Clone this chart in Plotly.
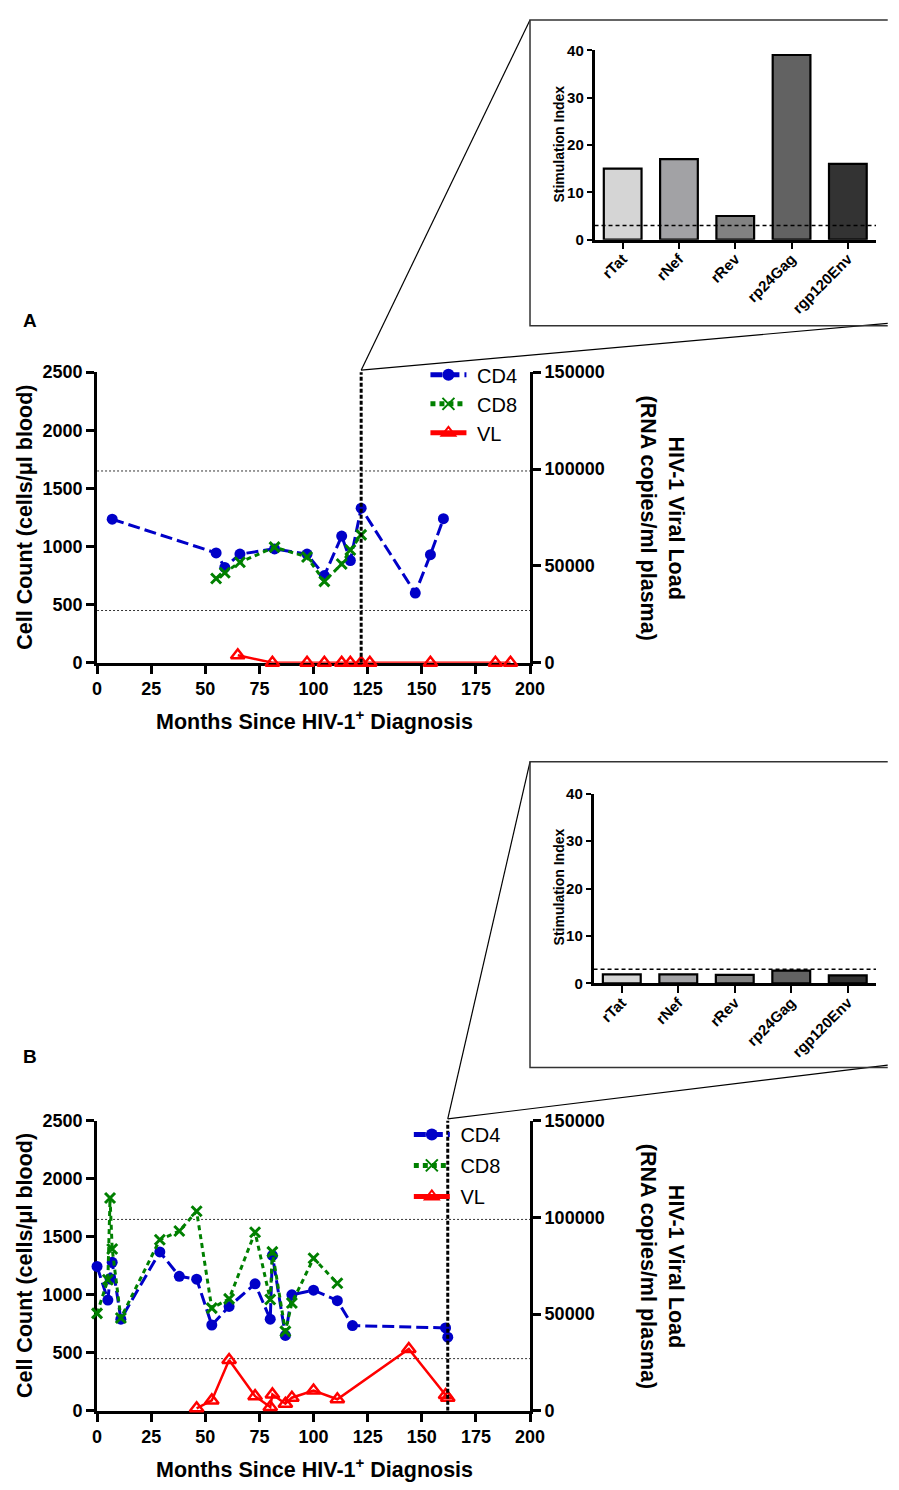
import plotly.graph_objects as go

W, H = 899, 1490          # size of the browser window / reference picture
PAGE_MARGIN = 8           # default body margin of the html page
FIG_W, FIG_H = W - 2 * PAGE_MARGIN, H - 2 * PAGE_MARGIN
FONT = "Liberation Sans, Arial, sans-serif"
NBSP = "\u00a0"

# ---------------- Data ----------------
# Panel A
a_cd4_month = [7, 55, 59, 66, 82, 97, 105, 113, 117, 122, 147, 154, 160]
a_cd4 = [1235, 945, 820, 935, 980, 935, 750, 1090, 880, 1330, 600, 930, 1240]
a_cd8_month = [55, 59, 66, 82, 97, 105, 113, 117, 122]
a_cd8 = [725, 775, 865, 995, 910, 700, 850, 970, 1100]
a_vl_month = [65, 81, 97, 105, 113, 117, 122, 126, 154, 184, 191]
a_vl = [3900, 50, 50, 50, 50, 50, 50, 50, 50, 50, 50]
a_zoom_month = 122

# Panel B
b_cd4_month = [0, 5, 6, 7, 11, 29, 38, 46, 53, 61, 73, 80, 81, 87, 90, 100, 111, 118, 161, 162]
b_cd4 = [1245, 955, 1140, 1280, 790, 1370, 1160, 1135, 740, 900, 1095, 790, 1340, 650, 1000, 1040, 950, 735, 715, 635]
b_cd8_month = [0, 5, 6, 7, 11, 29, 38, 46, 53, 61, 73, 80, 81, 87, 90, 100, 111]
b_cd8 = [840, 1130, 1835, 1395, 800, 1475, 1550, 1720, 885, 965, 1540, 960, 1370, 685, 930, 1315, 1100]
b_vl_month = [46, 53, 61, 73, 80, 81, 87, 90, 100, 111, 144, 161, 162]
b_vl = [1300, 5400, 26300, 7600, 2000, 8500, 3700, 6800, 10500, 6000, 32000, 8200, 6800]
b_zoom_month = 162

# Normal-range reference lines (cells/ul)
ref_lines = [450, 1650]

# Insets
antigens = ["rTat", "rNef", "rRev", "rp24Gag", "rgp120Env"]
a_si = [15, 17, 5, 39, 16]
b_si = [1.9, 1.9, 1.8, 2.7, 1.7]
si_threshold = 3
bar_colors = ["#d5d5d5", "#a2a2a5", "#828282", "#626262", "#333333"]

# ---------------- Layout geometry (window pixels) ----------------
def px(x):
    return (x - PAGE_MARGIN) / FIG_W

def py(y):
    return 1 - (y - PAGE_MARGIN) / FIG_H

def clamp(v):
    return min(1.0, max(0.0, v))

A_X = [94, 537]; A_Y = [661.7, 367]
B_X = [94, 537]; B_Y = [1420, 1126]
IA_X = [603, 891]; IA_Y = [232.7, 40.7]
IB_X = [602, 891]; IB_Y = [986.7, 794.3]
BOX_A = [537, 10, 320]     # left, top, bottom (box runs off the right edge)
BOX_B = [537, 762, 1072]
RIGHT_EDGE = W + 4

fig = go.Figure()

CD4_COLOR = "#0000c8"
CD8_COLOR = "#008000"
VL_COLOR = "#ff0000"


def add_panel(cd4m, cd4, cd8m, cd8, vlm, vl, xa, ya, ya2, leg):
    fig.add_trace(go.Scatter(
        x=cd4m, y=cd4, name=NBSP + "CD4", mode="lines+markers", xaxis=xa, yaxis=ya,
        line=dict(color=CD4_COLOR, width=3, dash="12px,5px"),
        marker=dict(symbol="circle", size=11, color=CD4_COLOR),
        legend=leg, legendgroup=leg + "cd4", cliponaxis=False))
    fig.add_trace(go.Scatter(
        x=cd8m, y=cd8, name=NBSP + "CD8", mode="lines+markers", xaxis=xa, yaxis=ya,
        line=dict(color=CD8_COLOR, width=3, dash="5px,4px"),
        marker=dict(symbol="x-thin", size=10, color=CD8_COLOR,
                    line=dict(color=CD8_COLOR, width=3)),
        legend=leg, legendgroup=leg + "cd8", cliponaxis=False))
    fig.add_trace(go.Scatter(
        x=vlm, y=vl, name=NBSP + "VL", mode="lines+markers", xaxis=xa, yaxis=ya2,
        line=dict(color=VL_COLOR, width=2.5),
        marker=dict(symbol="triangle-up-open", size=12, color=VL_COLOR,
                    line=dict(color=VL_COLOR, width=2.5)),
        legend=leg, legendgroup=leg + "vl", cliponaxis=False))


add_panel(a_cd4_month, a_cd4, a_cd8_month, a_cd8, a_vl_month, a_vl, "x", "y", "y2", "legend")
add_panel(b_cd4_month, b_cd4, b_cd8_month, b_cd8, b_vl_month, b_vl, "x3", "y3", "y4", "legend2")

fig.add_trace(go.Bar(x=antigens, y=a_si, xaxis="x5", yaxis="y5", showlegend=False,
                     marker=dict(color=bar_colors, line=dict(color="black", width=2.2)),
                     width=0.67))
fig.add_trace(go.Bar(x=antigens, y=b_si, xaxis="x6", yaxis="y6", showlegend=False,
                     marker=dict(color=bar_colors, line=dict(color="black", width=2.2)),
                     width=0.67))

tickfont_main = dict(family=FONT, size=18, color="black", weight="bold")
axis_common = dict(showline=True, linecolor="black", linewidth=3, ticks="outside",
                   ticklen=8, tickwidth=2.5, tickcolor="black", showgrid=False,
                   zeroline=False, tickfont=tickfont_main, layer="below traces")


def main_axes(xd, yd, xname, yname, y2name):
    xk = "xaxis" if xname == "x" else "xaxis" + xname[1:]
    yk = "yaxis" if yname == "y" else "yaxis" + yname[1:]
    y2k = "yaxis" + y2name[1:]
    return {
        xk: dict(axis_common, domain=[clamp(px(xd[0])), clamp(px(xd[1]))], range=[0, 200],
                 tickvals=list(range(0, 201, 25)), anchor=yname),
        yk: dict(axis_common, domain=[clamp(py(yd[0])), clamp(py(yd[1]))], range=[0, 2500],
                 tickvals=list(range(0, 2501, 500)), anchor=xname),
        y2k: dict(axis_common, range=[0, 150000], overlaying=yname, side="right",
                  anchor=xname, tickvals=[0, 50000, 100000, 150000], tickformat="d"),
    }


layout_axes = {}
layout_axes.update(main_axes(A_X, A_Y, "x", "y", "y2"))
layout_axes.update(main_axes(B_X, B_Y, "x3", "y3", "y4"))

inset_common = dict(showline=True, linecolor="black", linewidth=2.5, ticks="outside",
                    tickwidth=2, tickcolor="black", showgrid=False, zeroline=False,
                    tickfont=dict(family=FONT, size=15, color="black", weight="bold"))
for xk, yk, xn, yn, xd, yd in [("xaxis5", "yaxis5", "x5", "y5", IA_X, IA_Y),
                               ("xaxis6", "yaxis6", "x6", "y6", IB_X, IB_Y)]:
    layout_axes[xk] = dict(inset_common, domain=[clamp(px(xd[0])), clamp(px(xd[1]))],
                           range=[-0.5, 4.5], anchor=yn, tickangle=-45, ticklen=7,
                           type="category", ticklabelstandoff=-5)
    layout_axes[yk] = dict(inset_common, domain=[clamp(py(yd[0])), clamp(py(yd[1]))],
                           range=[0, 40], anchor=xn, tickvals=[0, 10, 20, 30, 40], ticklen=5)

fig.update_layout(**layout_axes)

shapes = []
for xn, yn, zm, xd, yd, box in [("x", "y", a_zoom_month, A_X, A_Y, BOX_A),
                                ("x3", "y3", b_zoom_month, B_X, B_Y, BOX_B)]:
    for r in ref_lines:
        shapes.append(dict(type="line", xref=xn, yref=yn, x0=0, x1=200, y0=r, y1=r,
                           line=dict(color="#333333", width=1, dash="2px,2px"), layer="below"))
    shapes.append(dict(type="line", xref=xn, yref=yn, x0=zm, x1=zm, y0=0, y1=2510,
                       line=dict(color="black", width=3, dash="4px,2px")))
    zx_px = xd[0] + (xd[1] - xd[0]) * zm / 200
    zy_px = yd[1] - 2
    shapes.append(dict(type="line", xref="paper", yref="paper", x0=px(zx_px), y0=py(zy_px),
                       x1=px(box[0]), y1=py(box[1]), line=dict(color="black", width=1.2)))
    shapes.append(dict(type="line", xref="paper", yref="paper", x0=px(zx_px), y0=py(zy_px),
                       x1=px(RIGHT_EDGE), y1=py(box[2] - 2.5), line=dict(color="black", width=1.2)))
    # open box (top, left, bottom); the right side runs off the picture
    path = "M {:.5f},{:.5f} L {:.5f},{:.5f} L {:.5f},{:.5f} L {:.5f},{:.5f}".format(
        px(RIGHT_EDGE), py(box[1]), px(box[0]), py(box[1]), px(box[0]), py(box[2]),
        px(RIGHT_EDGE), py(box[2]))
    shapes.append(dict(type="path", xref="paper", yref="paper", path=path,
                       line=dict(color="#333333", width=1.5)))

for xn, yn in [("x5", "y5"), ("x6", "y6")]:
    shapes.append(dict(type="line", xref=xn, yref=yn, x0=-0.5, x1=4.5, y0=si_threshold,
                       y1=si_threshold, line=dict(color="black", width=1.5, dash="4px,3px")))

annotations = []
title_font = dict(family=FONT, size=21.5, color="black", weight="bold")
for yd, label, label_y, xtitle_y in [(A_Y, "A", 315, 720), (B_Y, "B", 1061, 1478)]:
    mid = (yd[0] + yd[1]) / 2
    annotations.append(dict(text="Cell Count (cells/μl blood)", x=px(20.5), y=py(mid),
                            xref="paper", yref="paper", textangle=-90, showarrow=False,
                            font=title_font, xanchor="center", yanchor="middle"))
    annotations.append(dict(text="HIV-1 Viral Load<br>(RNA copies/ml plasma)", x=px(672),
                            y=py(mid + 1), xref="paper", yref="paper", textangle=90,
                            showarrow=False, font=title_font, xanchor="center",
                            yanchor="middle"))
    annotations.append(dict(text="Months Since HIV-1<sup>+</sup> Diagnosis", x=px(316),
                            y=py(xtitle_y), xref="paper", yref="paper", showarrow=False,
                            font=title_font, xanchor="center", yanchor="middle"))
    annotations.append(dict(text=label, x=px(25), y=py(label_y), xref="paper", yref="paper",
                            showarrow=False, xanchor="center", yanchor="middle",
                            font=dict(family=FONT, size=19, color="black", weight="bold")))

for cy in [136, 889]:
    annotations.append(dict(text="Stimulation Index", x=px(567), y=py(cy), xref="paper",
                            yref="paper", textangle=-90, showarrow=False,
                            xanchor="center", yanchor="middle",
                            font=dict(family=FONT, size=14, color="black", weight="bold")))

legend_common = dict(font=dict(family=FONT, size=20, color="black"), bgcolor="rgba(0,0,0,0)",
                     borderwidth=0, xanchor="left", yanchor="top", traceorder="grouped",
                     itemsizing="constant", itemwidth=36)
fig.update_layout(
    width=FIG_W, height=FIG_H, margin=dict(l=0, r=0, t=0, b=0),
    plot_bgcolor="white", paper_bgcolor="white",
    font=dict(family=FONT, color="black"),
    shapes=shapes, annotations=annotations, showlegend=True,
    legend=dict(legend_common, x=px(430), y=py(350), tracegroupgap=0),
    legend2=dict(legend_common, x=px(413), y=py(1120), tracegroupgap=2),
)

fig.write_html("out.html", config={"displayModeBar": False})
